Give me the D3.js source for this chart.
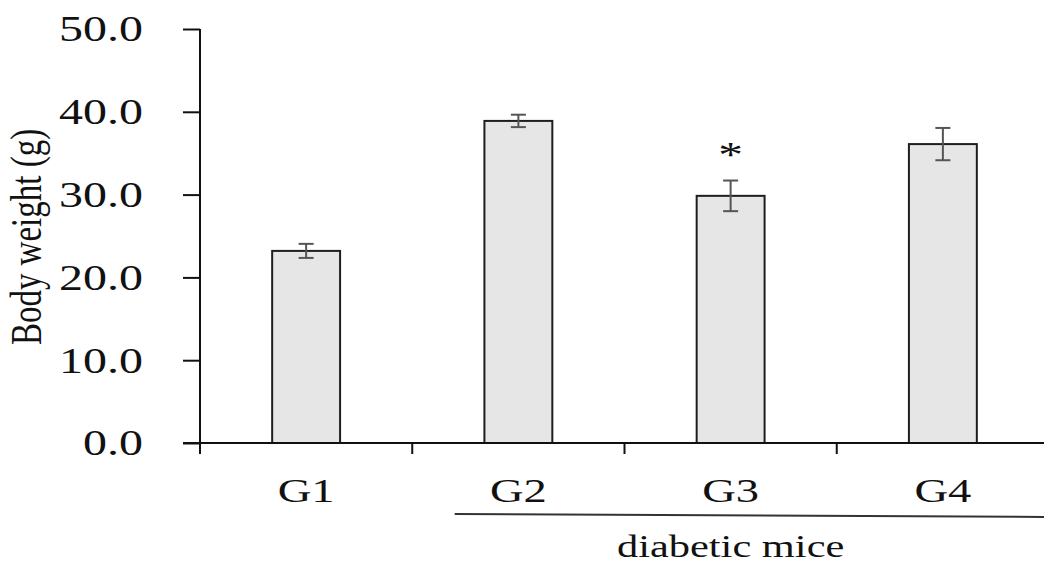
<!DOCTYPE html>
<html>
<head>
<meta charset="utf-8">
<script src="https://cdn.jsdelivr.net/npm/d3@7"></script>
<style>
  body { margin: 0; background: #fff; }
  svg { display: block; }
  text { font-family: "Liberation Serif", "Times New Roman", serif; fill: #111; }
</style>
</head>
<body>
<svg width="1044" height="564"></svg>
<script>
var groups = ["G1", "G2", "G3", "G4"];
var weights = [23.2, 38.9, 29.85, 36.1];
var errors = [0.85, 0.75, 1.85, 1.95];
var starred = ["G3"];
var yTicks = [0, 10, 20, 30, 40, 50];
var bracketGroups = ["G2", "G4"];
var bracketLabel = "diabetic mice";
var yLabel = "Body weight (g)";

var data = groups.map(function(g, i) {
    return {group: g, weight: weights[i], err: errors[i]};
});

var svg = d3.select("svg"),
    stretch = 1.37; // source picture is stretched sideways

var x = d3.scaleBand().domain(groups).range([200, 1049]),
    y = d3.scaleLinear().domain([0, 50]).range([443, 29]);

var barW = x.bandwidth() * 0.32;

// bars
svg.selectAll(".bar")
    .data(data)
    .enter().append("rect")
        .attr("class", "bar")
        .attr("x", function(d) { return x(d.group) + (x.bandwidth() - barW) / 2; })
        .attr("y", function(d) { return y(d.weight); })
        .attr("width", barW)
        .attr("height", function(d) { return y(0) - y(d.weight); })
        .attr("fill", "#e6e6e6")
        .attr("stroke", "#1e1e1e")
        .attr("stroke-width", 2);

// error bars
var eb = svg.selectAll(".err")
    .data(data)
    .enter().append("g")
        .attr("class", "err")
        .attr("stroke", "#555")
        .attr("stroke-width", 2);

eb.append("line")
    .attr("x1", function(d) { return x(d.group) + x.bandwidth() / 2; })
    .attr("x2", function(d) { return x(d.group) + x.bandwidth() / 2; })
    .attr("y1", function(d) { return y(d.weight + d.err); })
    .attr("y2", function(d) { return y(d.weight - d.err); });

[1, -1].forEach(function(s) {
    eb.append("line")
        .attr("x1", function(d) { return x(d.group) + x.bandwidth() / 2 - 7.5; })
        .attr("x2", function(d) { return x(d.group) + x.bandwidth() / 2 + 7.5; })
        .attr("y1", function(d) { return y(d.weight + s * d.err); })
        .attr("y2", function(d) { return y(d.weight + s * d.err); });
});

// significance star
svg.selectAll(".star")
    .data(data.filter(function(d) { return starred.indexOf(d.group) >= 0; }))
    .enter().append("text")
        .attr("class", "star")
        .attr("transform", function(d) {
            return "translate(" + (x(d.group) + x.bandwidth() / 2) + "," + (y(d.weight + d.err) - 14) + ") scale(" + stretch + ",1)";
        })
        .attr("text-anchor", "middle")
        .style("font-size", "36px")
        .text("*");

// y axis
var yAxis = svg.append("g")
    .attr("transform", "translate(200,0)")
    .call(d3.axisLeft(y).tickValues(yTicks).tickFormat(d3.format(".1f")).tickSize(17).tickSizeOuter(0));

yAxis.select(".domain").remove();
yAxis.selectAll(".tick line").attr("stroke", "#111").attr("stroke-width", 2);
yAxis.selectAll(".tick text")
    .attr("x", null)
    .attr("dy", "0.34em")
    .attr("text-anchor", "end")
    .attr("transform", "translate(-57,0) scale(" + stretch + ",1)")
    .style("font-size", "35px")
    .attr("fill", "#111");

svg.append("line")
    .attr("x1", 200).attr("x2", 200)
    .attr("y1", y(50)).attr("y2", y(0) + 11)
    .attr("stroke", "#111").attr("stroke-width", 2);

// x axis
svg.append("line")
    .attr("x1", 183).attr("x2", 1044)
    .attr("y1", y(0)).attr("y2", y(0))
    .attr("stroke", "#111").attr("stroke-width", 2);

svg.selectAll(".xtick")
    .data(groups.slice(1))
    .enter().append("line")
        .attr("class", "xtick")
        .attr("x1", function(d) { return x(d); })
        .attr("x2", function(d) { return x(d); })
        .attr("y1", y(0))
        .attr("y2", y(0) + 11)
        .attr("stroke", "#111")
        .attr("stroke-width", 2);

svg.selectAll(".xlabel")
    .data(groups)
    .enter().append("text")
        .attr("class", "xlabel")
        .attr("transform", function(d) {
            return "translate(" + (x(d) + x.bandwidth() / 2) + ",502) scale(" + stretch + ",1)";
        })
        .attr("text-anchor", "middle")
        .style("font-size", "34px")
        .text(function(d) { return d; });

// bracket under diabetic groups
var bx1 = x(bracketGroups[0]) + x.bandwidth() * 0.2,
    bx2 = 1044;
svg.append("line")
    .attr("x1", bx1).attr("x2", bx2)
    .attr("y1", 514).attr("y2", 517)
    .attr("stroke", "#333").attr("stroke-width", 2);

svg.append("text")
    .attr("transform", "translate(" + ((x(bracketGroups[0]) + x(bracketGroups[1]) + x.bandwidth()) / 2) + ",557) scale(" + stretch + ",1)")
    .attr("text-anchor", "middle")
    .style("font-size", "31px")
    .text(bracketLabel);

// y label
svg.append("text")
    .attr("transform", "translate(41,237) rotate(-90) scale(1," + stretch + ")")
    .attr("text-anchor", "middle")
    .style("font-size", "33px")
    .text(yLabel);
</script>
</body>
</html>
